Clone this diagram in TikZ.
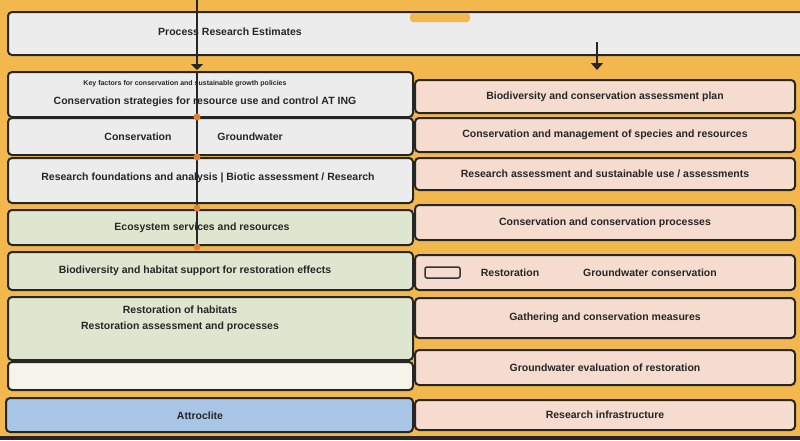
\documentclass[tikz,border=0pt]{standalone}
\usepackage{fontspec}
\setmainfont{Liberation Sans}
\usetikzlibrary{arrows.meta}
\definecolor{bgor}{HTML}{F2B84E}
\definecolor{gbox}{HTML}{ECECEC}
\definecolor{grn}{HTML}{DEE6D0}
\definecolor{peach}{HTML}{F5DCCF}
\definecolor{blu}{HTML}{A8C5E6}
\definecolor{offw}{HTML}{F6F4EA}
\definecolor{dot}{HTML}{E0803A}
\begin{document}
\begin{tikzpicture}[x=1pt,y=-1pt,
 box/.style={draw=black!85,line width=2pt,rounded corners=4pt},
 txt/.style={font=\fontsize{10.5}{12}\selectfont\bfseries,text=black!85},
 dt/.style={circle,fill=dot,inner sep=0pt,minimum size=7pt}]
\useasboundingbox (0,0) rectangle (800,440);
\fill[bgor] (0,0) rectangle (800,440);
\fill[black!85] (0,436) rectangle (800,440);
% top
\draw[box,fill=gbox] (8,12) rectangle (806,55);
\fill[bgor,rounded corners=3pt] (410,13) rectangle (470,22);
\node[txt] (top) at (230,32) {Process Research Estimates};
% left column
\draw[box,fill=gbox] (8,72) rectangle (413,117);
\node[txt,font=\fontsize{7}{8}\selectfont\bfseries] (l1a) at (185,84) {Key factors for conservation and sustainable growth policies};
\node[txt] (l1b) at (205,102) {Conservation strategies for resource use and control AT ING};
\draw[box,fill=gbox] (8,118) rectangle (413,155);
\node[txt] (l2a) at (138,137) {Conservation};
\node[txt] (l2b) at (250,137) {Groundwater};
\draw[box,fill=gbox] (8,158) rectangle (413,203);
\node[txt] (l3) at (208,178) {Research foundations and analysis | Biotic assessment / Research};
\draw[box,fill=grn] (8,210) rectangle (413,245);
\node[txt] (l4) at (202,228) {Ecosystem services and resources};
\draw[box,fill=grn] (8,252) rectangle (413,290);
\node[txt] (l5) at (195,271) {Biodiversity and habitat support for restoration effects};
\draw[box,fill=grn] (8,297) rectangle (413,360);
\node[txt] (l6a) at (180,310) {Restoration of habitats};
\node[txt] (l6b) at (180,327) {Restoration assessment and processes};
\draw[box,fill=offw] (8,362) rectangle (413,390);
\draw[box,fill=blu] (6,398) rectangle (413,432);
\node[txt] (l8) at (200,416) {Attroclite};
% spine
\coordinate (s0) at (197,0);
\coordinate (s1) at (197,245);
\draw[black!85,line width=1.5pt] (s0) -- (197,60);
\draw[black!85,line width=1.5pt] (197,72) -- (s1);
\draw[-{Triangle[width=12pt,length=6pt]},black!85,line width=1.5pt] (197,55) -- (197,70);
\node[dt] (d1) at (197,117) {};
\node[dt] (d2) at (197,157) {};
\node[dt] (d3) at (197,208) {};
\node[dt] (d4) at (197,247) {};
% right column
\foreach \a/\b/\t in {80/113/{Biodiversity and conservation assessment plan},
  118/152/{Conservation and management of species and resources},
  158/190/{Research assessment and sustainable use / assessments},
  205/240/{Conservation and conservation processes},
  298/338/{Gathering and conservation measures},
  350/385/{Groundwater evaluation of restoration},
  400/430/{Research infrastructure}}{
  \draw[box,fill=peach] (415,\a) rectangle (795,\b);
  \node[txt] at (605,{(\a+\b)/2}) {\t};
}
\draw[box,fill=peach] (415,255) rectangle (795,290);
\draw[black!80,line width=1.5pt,rounded corners=2pt,fill=peach] (425,267) rectangle (460,278);
\node[txt] (r5a) at (510,273) {Restoration};
\node[txt] (r5b) at (650,273) {Groundwater conservation};
\coordinate (a0) at (597,42);
\coordinate (a1) at (597,70);
\draw[-{Triangle[width=12pt,length=7pt]},black!85,line width=2.5pt] (a0) -- (a1);
\end{tikzpicture}
\end{document}
